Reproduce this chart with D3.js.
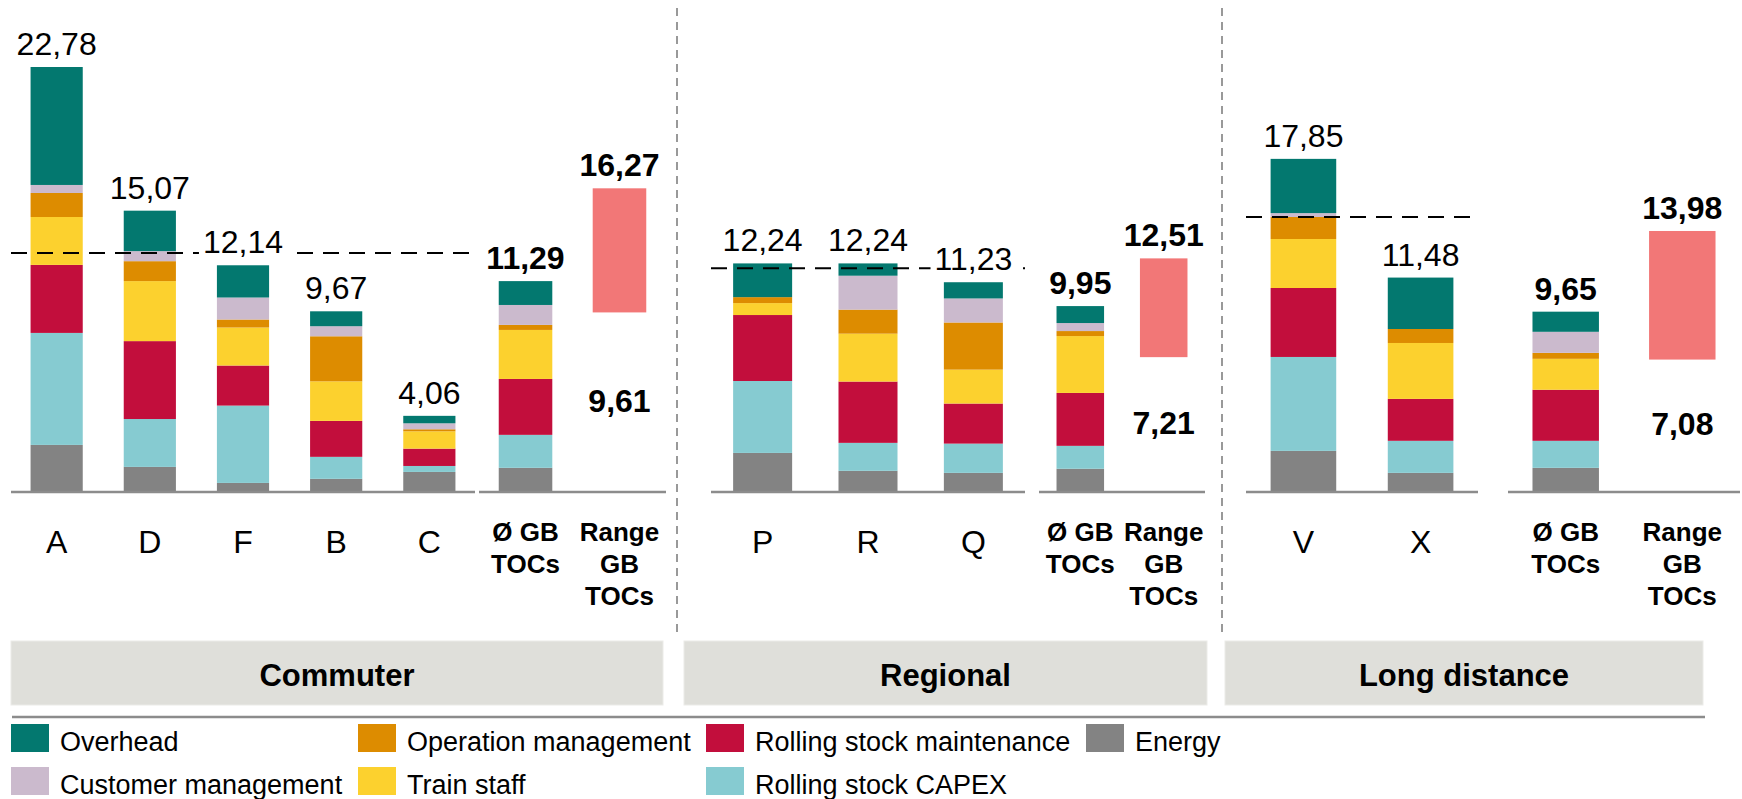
<!DOCTYPE html>
<html>
<head>
<meta charset="utf-8">
<script src="https://cdn.jsdelivr.net/npm/d3@7"></script>
<style>
  body { margin: 0; background: #fff; }
  svg { display: block; font-family: "Liberation Sans", Arial, sans-serif; }
</style>
</head>
<body>
<script>
// stack order, bottom to top
const segments = ["Energy", "Rolling stock CAPEX", "Rolling stock maintenance", "Train staff",
  "Operation management", "Customer management", "Overhead"];
const colors = ["#838383", "#86cbd1", "#c20e3c", "#fcd12e", "#dd8c00", "#cbbacd", "#03786f"];
const legendOrder = ["Overhead", "Operation management", "Rolling stock maintenance", "Energy",
  "Customer management", "Train staff", "Rolling stock CAPEX"];

const groups = ["Commuter", "Regional", "Long distance"];
const operators = [["A", "D", "F", "B", "C"], ["P", "R", "Q"], ["V", "X"]];

// one value per bar: A D F B C ØCommuter | P R Q ØRegional | V X ØLong distance
const energy      = [2.50, 1.32, 0.46, 0.68, 1.05, 1.27,  2.07, 1.11, 1.00, 1.22,  2.18, 1.00, 1.27];
const capex       = [6.01, 2.57, 4.15, 1.18, 0.32, 1.77,  3.86, 1.50, 1.57, 1.23,  5.04, 1.72, 1.45];
const maintenance = [3.65, 4.18, 2.15, 1.93, 0.93, 3.00,  3.54, 3.29, 2.15, 2.84,  3.70, 2.25, 2.74];
const trainStaff  = [2.57, 3.22, 2.04, 2.12, 0.93, 2.63,  0.64, 2.57, 1.82, 3.05,  2.63, 3.00, 1.66];
const operation   = [1.29, 1.07, 0.43, 2.42, 0.11, 0.27,  0.32, 1.29, 2.53, 0.27,  1.18, 0.75, 0.32];
const customer    = [0.43, 0.54, 1.18, 0.54, 0.32, 1.07,  0.00, 1.82, 1.29, 0.43,  0.21, 0.00, 1.13];
const overhead    = [6.33, 2.17, 1.73, 0.80, 0.40, 1.28,  1.81, 0.66, 0.87, 0.91,  2.91, 2.76, 1.08];

const rangeLow  = [9.61, 7.21, 7.08];
const rangeHigh = [16.27, 12.51, 13.98];
const benchmark = [12.80, 11.98, 14.73];   // dashed line over the operators

const avgLabel = ["Ø GB", "TOCs"];
const rangeLabel = ["Range", "GB", "TOCs"];

const seriesValues = {
  "Energy": energy, "Rolling stock CAPEX": capex, "Rolling stock maintenance": maintenance,
  "Train staff": trainStaff, "Operation management": operation,
  "Customer management": customer, "Overhead": overhead
};

const width = 1742, height = 799;
const baseY = 491.5;

// panel layout: operator block, summary block, grey title box, separator
const panels = [
  { ops: [11, 475],   sum: [479, 666],   box: [11, 663],    sep: 677 },
  { ops: [711, 1025], sum: [1039, 1205], box: [684, 1207],  sep: 1222 },
  { ops: [1246, 1478], sum: [1508, 1740], box: [1225, 1703], sep: null }
];

const bars = operators.flatMap((ops, g) => [
  ...ops.map(o => ({ group: g, name: o, avg: false })),
  { group: g, name: "Ø", avg: true }
]);
const rows = bars.map((b, i) => {
  const r = { ...b };
  segments.forEach(s => r[s] = seriesValues[s][i]);
  r.total = d3.sum(segments, s => seriesValues[s][i]);
  return r;
});

const fmt = d3.formatLocale({ decimal: ",", thousands: ".", grouping: [3], currency: ["", ""] }).format(".2f");

const y = d3.scaleLinear()
  .domain([0, d3.max(rows, d => d.total)])
  .range([baseY, 67]);

const color = d3.scaleOrdinal().domain(segments).range(colors);

const opsX = panels.map((p, g) => d3.scaleBand()
  .domain(operators[g]).range(p.ops).paddingInner(0.44).paddingOuter(0.21));
const sumX = panels.map(p => d3.scaleBand()
  .domain(["avg", "range"]).range(p.sum).paddingInner(0.43).paddingOuter(0.21));

const xOf = d => d.avg ? sumX[d.group]("avg") : opsX[d.group](d.name);
const bwOf = d => d.avg ? sumX[d.group].bandwidth() : opsX[d.group].bandwidth();

const svg = d3.select("body").append("svg")
  .attr("width", width).attr("height", height);

// vertical separators
svg.append("g")
  .selectAll("line")
  .data(panels.filter(p => p.sep !== null))
  .join("line")
    .attr("x1", d => d.sep).attr("x2", d => d.sep)
    .attr("y1", 8).attr("y2", 633)
    .attr("stroke", "#999").attr("stroke-width", 2)
    .attr("stroke-dasharray", "8,6");

// stacked bars
const stacked = d3.stack().keys(segments)(rows);
svg.append("g")
  .selectAll("g")
  .data(stacked)
  .join("g")
    .attr("fill", d => color(d.key))
  .selectAll("rect")
  .data(d => d)
  .join("rect")
    .attr("x", d => xOf(d.data))
    .attr("width", d => bwOf(d.data))
    .attr("y", d => y(d[1]))
    .attr("height", d => Math.max(0, y(d[0]) - y(d[1])));

// baselines
svg.append("g")
  .attr("stroke", "#8c8c8c").attr("stroke-width", 2.5)
  .selectAll("line")
  .data(panels.flatMap(p => [p.ops, p.sum]))
  .join("line")
    .attr("x1", d => d[0]).attr("x2", d => d[1])
    .attr("y1", baseY + 0.5).attr("y2", baseY + 0.5);

// range boxes
svg.append("g")
  .selectAll("rect")
  .data(groups.map((g, i) => i))
  .join("rect")
    .attr("x", g => sumX[g]("range"))
    .attr("width", g => sumX[g].bandwidth())
    .attr("y", g => y(rangeHigh[g]))
    .attr("height", g => y(rangeLow[g]) - y(rangeHigh[g]))
    .attr("fill", "#f27777");

// benchmark dashed lines
svg.append("g")
  .selectAll("line")
  .data(groups.map((g, i) => i))
  .join("line")
    .attr("x1", g => panels[g].ops[0]).attr("x2", g => panels[g].ops[1])
    .attr("y1", g => y(benchmark[g])).attr("y2", g => y(benchmark[g]))
    .attr("stroke", "#000").attr("stroke-width", 2)
    .attr("stroke-dasharray", "16,10");

// total labels
const totals = svg.append("g")
  .attr("text-anchor", "middle")
  .attr("font-size", 32)
  .selectAll("g")
  .data(rows)
  .join("g");

totals.append("text")
  .attr("x", d => xOf(d) + bwOf(d) / 2)
  .attr("y", d => y(d.total) - 12)
  .attr("font-weight", d => d.avg ? "bold" : "normal")
  .attr("fill", "#000")
  .text(d => fmt(d.total));

// white patch behind operator totals so the dashed line stops at the text
totals.each(function(d) {
  if (d.avg) return;
  const bb = d3.select(this).select("text").node().getBBox();
  d3.select(this).insert("rect", "text")
    .attr("x", bb.x - 4).attr("y", bb.y)
    .attr("width", bb.width + 8).attr("height", bb.height)
    .attr("fill", "#fff");
});

// range labels
const rangeText = svg.append("g")
  .attr("text-anchor", "middle")
  .attr("font-size", 32)
  .attr("font-weight", "bold");
rangeText.selectAll(".hi")
  .data(groups.map((g, i) => i))
  .join("text")
    .attr("class", "hi")
    .attr("x", g => sumX[g]("range") + sumX[g].bandwidth() / 2)
    .attr("y", g => y(rangeHigh[g]) - 12)
    .text(g => fmt(rangeHigh[g]));
rangeText.selectAll(".lo")
  .data(groups.map((g, i) => i))
  .join("text")
    .attr("class", "lo")
    .attr("x", g => sumX[g]("range") + sumX[g].bandwidth() / 2)
    .attr("y", g => y(rangeLow[g] / 2))
    .attr("dy", "0.3em")
    .text(g => fmt(rangeLow[g]));

// category labels
svg.append("g")
  .attr("text-anchor", "middle")
  .attr("font-size", 32)
  .selectAll("text")
  .data(rows.filter(d => !d.avg))
  .join("text")
    .attr("x", d => xOf(d) + bwOf(d) / 2)
    .attr("y", 553)
    .text(d => d.name);

const sumLabels = svg.append("g")
  .attr("text-anchor", "middle")
  .attr("font-size", 26)
  .attr("font-weight", "bold");
groups.forEach((g, i) => {
  [["avg", avgLabel], ["range", rangeLabel]].forEach(([key, lines]) => {
    sumLabels.append("text")
      .attr("x", sumX[i](key) + sumX[i].bandwidth() / 2)
      .attr("y", 541)
      .selectAll("tspan")
      .data(lines)
      .join("tspan")
        .attr("x", sumX[i](key) + sumX[i].bandwidth() / 2)
        .attr("dy", (d, j) => j === 0 ? 0 : 32)
        .text(d => d);
  });
});

// segment title boxes
const boxes = svg.append("g")
  .selectAll("g")
  .data(panels)
  .join("g");
boxes.append("rect")
  .attr("x", d => d.box[0]).attr("width", d => d.box[1] - d.box[0])
  .attr("y", 641).attr("height", 64)
  .attr("fill", "#dfdfda").attr("stroke", "#ebebe8").attr("stroke-width", 1);
boxes.append("text")
  .attr("x", d => (d.box[0] + d.box[1]) / 2)
  .attr("y", 686)
  .attr("text-anchor", "middle")
  .attr("font-size", 31).attr("font-weight", "bold")
  .text((d, i) => groups[i]);

// legend
svg.append("line")
  .attr("x1", 12).attr("x2", 1705)
  .attr("y1", 717).attr("y2", 717)
  .attr("stroke", "#8c8c8c").attr("stroke-width", 2.5);

const legendCols = [11, 358, 706, 1086];
const legend = svg.append("g")
  .selectAll("g")
  .data(legendOrder)
  .join("g")
    .attr("transform", (d, i) => `translate(${legendCols[i % 4]},${724 + Math.floor(i / 4) * 43})`);
legend.append("rect")
  .attr("width", 38).attr("height", 28)
  .attr("fill", d => color(d));
legend.append("text")
  .attr("x", 49).attr("y", 27)
  .attr("font-size", 27)
  .text(d => d);
</script>
</body>
</html>
